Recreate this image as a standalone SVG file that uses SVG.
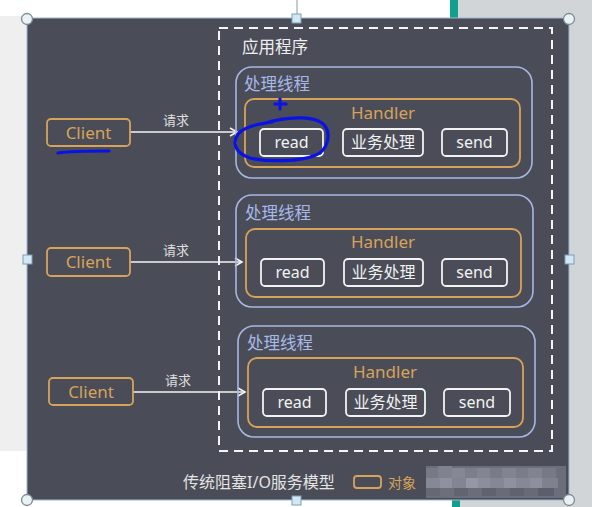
<svg xmlns="http://www.w3.org/2000/svg" width="592" height="507" viewBox="0 0 592 507">
  <style>
    .cn { font-family: "Noto Sans", "Noto Sans CJK SC", sans-serif; }
    .thread { fill: none; stroke: #a9b6e4; stroke-width: 1.6; }
    .handler { fill: none; stroke: #d7a35a; stroke-width: 1.8; }
    .step { fill: #4a4d57; stroke: #f2f2f2; stroke-width: 1.8; }
    .client { fill: #4a4d57; stroke: #d7a35a; stroke-width: 1.8; }
    .step-t { fill: #f2f2f2; font-size: 16px; text-anchor: middle; }
    .client-t { fill: #d7a35a; font-size: 17px; text-anchor: middle; }
    .handler-t { fill: #d7a35a; font-size: 17px; text-anchor: middle; }
    .thread-t { fill: #a9b8ea; font-size: 16.5px; }
    .req-t { fill: #dedede; font-size: 13px; text-anchor: middle; }
    .link { fill: none; stroke: #f4f4f4; stroke-width: 1.6; }
    .handle-c { fill: #e9f3f5; stroke: #7f8a94; stroke-width: 1.3; }
    .handle-s { fill: #cfe8f3; stroke: #7f9fb5; stroke-width: 1; }
    .ink { fill: none; stroke: #0a12e6; stroke-width: 3.2; stroke-linecap: round; stroke-linejoin: round; }
  </style>
  <defs>
    <marker id="chev" markerWidth="10" markerHeight="10" refX="8" refY="5" orient="auto" markerUnits="userSpaceOnUse">
      <path d="M1,1 L8,5 L1,9" fill="none" stroke="#f4f4f4" stroke-width="1.6"/>
    </marker>
  </defs>

  <!-- surrounding workspace -->
  <rect x="0" y="0" width="592" height="507" fill="#ffffff"/>
  <rect x="0" y="16" width="27" height="435" fill="#efefef"/>
  <rect x="458" y="0" width="134" height="507" fill="#d2d5d8"/>
  <rect x="450" y="0" width="8" height="18" fill="#12a08e"/>
  <rect x="452" y="500" width="8" height="7" fill="#12a08e"/>
  <line x1="297" y1="0" x2="297" y2="18" stroke="#8a9aa6" stroke-width="1"/>

  <!-- slide panel -->
  <rect x="27" y="18" width="542" height="482" fill="#4a4d57" stroke="#9fb6d6" stroke-width="1"/>

  <!-- application boundary -->
  <rect x="219" y="28" width="333" height="423" fill="none" stroke="#f4f4f4" stroke-width="2" stroke-dasharray="9,6"/>
  <text class="cn" x="242" y="53" fill="#eeeeee" font-size="16.5">应用程序</text>

  <!-- connectors -->
  <g id="connectors">
    <line class="link" x1="130" y1="132" x2="237" y2="132" marker-end="url(#chev)"/>
    <text class="cn req-t" x="176" y="125">请求</text>
    <line class="link" x1="130" y1="262" x2="242" y2="262" marker-end="url(#chev)"/>
    <text class="cn req-t" x="176" y="255">请求</text>
    <line class="link" x1="133" y1="392" x2="245" y2="392" marker-end="url(#chev)"/>
    <text class="cn req-t" x="178" y="385">请求</text>
  </g>

  <!-- clients -->
  <g id="client-1">
    <rect class="client" x="47" y="119" width="83" height="27" rx="4"/>
    <text class="cn client-t" x="88.5" y="138.5">Client</text>
  </g>
  <g id="client-2">
    <rect class="client" x="47" y="248" width="83" height="28" rx="4"/>
    <text class="cn client-t" x="88.5" y="268">Client</text>
  </g>
  <g id="client-3">
    <rect class="client" x="49" y="378" width="84" height="27" rx="4"/>
    <text class="cn client-t" x="91" y="397.5">Client</text>
  </g>

  <!-- worker thread 1 -->
  <g id="thread-1">
    <rect class="thread" x="236" y="67" width="296" height="111" rx="16"/>
    <text class="cn thread-t" x="244" y="90">处理线程</text>
    <rect class="handler" x="245" y="99" width="275" height="68" rx="9"/>
    <text class="cn handler-t" x="383" y="119">Handler</text>
    <rect class="step" x="260" y="129" width="63" height="27" rx="4"/>
    <text class="cn step-t" x="291.5" y="148">read</text>
    <rect class="step" x="343" y="129" width="80" height="27" rx="4"/>
    <text class="cn step-t" x="383" y="148">业务处理</text>
    <rect class="step" x="442" y="129" width="65" height="27" rx="4"/>
    <text class="cn step-t" x="474.5" y="148">send</text>
  </g>

  <!-- worker thread 2 -->
  <g id="thread-2">
    <rect class="thread" x="236" y="195" width="297" height="112" rx="16"/>
    <text class="cn thread-t" x="245" y="219">处理线程</text>
    <rect class="handler" x="246" y="229" width="275" height="68" rx="9"/>
    <text class="cn handler-t" x="383" y="248">Handler</text>
    <rect class="step" x="261" y="259" width="63" height="27" rx="4"/>
    <text class="cn step-t" x="292.5" y="278">read</text>
    <rect class="step" x="344" y="259" width="79" height="27" rx="4"/>
    <text class="cn step-t" x="383.5" y="278">业务处理</text>
    <rect class="step" x="442" y="259" width="65" height="27" rx="4"/>
    <text class="cn step-t" x="474.5" y="278">send</text>
  </g>

  <!-- worker thread 3 -->
  <g id="thread-3">
    <rect class="thread" x="238" y="326" width="297" height="111" rx="16"/>
    <text class="cn thread-t" x="247" y="349">处理线程</text>
    <rect class="handler" x="248" y="358" width="275" height="69" rx="9"/>
    <text class="cn handler-t" x="385" y="378">Handler</text>
    <rect class="step" x="263" y="389" width="63" height="27" rx="4"/>
    <text class="cn step-t" x="294.5" y="408">read</text>
    <rect class="step" x="346" y="389" width="79" height="27" rx="4"/>
    <text class="cn step-t" x="385.5" y="408">业务处理</text>
    <rect class="step" x="444" y="389" width="66" height="27" rx="4"/>
    <text class="cn step-t" x="477" y="408">send</text>
  </g>

  <!-- caption and legend -->
  <text class="cn" x="183" y="488" fill="#e4e4e4" font-size="16">传统阻塞I/O服务模型</text>
  <rect x="354" y="476" width="27" height="12" rx="3" fill="none" stroke="#d7a35a" stroke-width="1.8"/>
  <text class="cn" x="388" y="488" fill="#d7a35a" font-size="14">对象</text>

  <!-- mosaic patch -->
  <g id="mosaic">
    <rect x="426" y="466" width="140" height="32" fill="#6c6f7a"/>
    <rect x="426" y="468" width="12" height="10" fill="#777a86"/>
    <rect x="438" y="466" width="14" height="12" fill="#80838f"/>
    <rect x="452" y="468" width="13" height="10" fill="#858894"/>
    <rect x="465" y="468" width="12" height="10" fill="#7c7f8b"/>
    <rect x="477" y="468" width="13" height="10" fill="#838692"/>
    <rect x="490" y="468" width="12" height="10" fill="#797c88"/>
    <rect x="502" y="468" width="14" height="10" fill="#828591"/>
    <rect x="516" y="468" width="12" height="10" fill="#7a7d89"/>
    <rect x="528" y="468" width="14" height="10" fill="#818490"/>
    <rect x="542" y="468" width="14" height="10" fill="#777a86"/>
    <rect x="426" y="478" width="14" height="10" fill="#868995"/>
    <rect x="440" y="478" width="12" height="10" fill="#8f929e"/>
    <rect x="452" y="478" width="14" height="10" fill="#838692"/>
    <rect x="466" y="478" width="12" height="10" fill="#9598a4"/>
    <rect x="478" y="478" width="12" height="10" fill="#8c8f9b"/>
    <rect x="490" y="478" width="14" height="10" fill="#858894"/>
    <rect x="504" y="478" width="12" height="10" fill="#8f929e"/>
    <rect x="516" y="478" width="14" height="10" fill="#868995"/>
    <rect x="530" y="478" width="12" height="10" fill="#8d909c"/>
    <rect x="542" y="478" width="16" height="10" fill="#7f828e"/>
    <rect x="426" y="488" width="14" height="8" fill="#666974"/>
    <rect x="440" y="488" width="14" height="8" fill="#6d707b"/>
    <rect x="454" y="488" width="14" height="8" fill="#62656f"/>
    <rect x="468" y="488" width="14" height="8" fill="#6b6e79"/>
    <rect x="482" y="488" width="14" height="8" fill="#60636d"/>
    <rect x="496" y="488" width="14" height="8" fill="#696c77"/>
    <rect x="510" y="488" width="14" height="8" fill="#60636d"/>
    <rect x="524" y="488" width="14" height="8" fill="#686b76"/>
    <rect x="538" y="488" width="16" height="8" fill="#5c5f69"/>
  </g>

  <!-- selection handles -->
  <g id="handles">
    <rect class="handle-s" x="292" y="14" width="9" height="9"/>
    <rect class="handle-s" x="23" y="255" width="9" height="9"/>
    <rect class="handle-s" x="565" y="255" width="9" height="9"/>
    <rect class="handle-s" x="292" y="496" width="9" height="9"/>
    <circle class="handle-c" cx="27" cy="19" r="5.5"/>
    <circle class="handle-c" cx="569" cy="19" r="5.5"/>
    <circle class="handle-c" cx="27" cy="500" r="5.5"/>
    <circle class="handle-c" cx="569" cy="500" r="5.5"/>
  </g>

  <!-- pen marks -->
  <g id="pen">
    <path class="ink" d="M58,153 C70,151 95,151 109,151"/>
    <path class="ink" d="M280,99 L280,109 M275,104 L286,104" stroke-width="2.2"/>
    <path class="ink" d="M262,124 C290,115 318,116 325,126 C331,134 328,150 316,155 C300,162 268,162 250,158 C235,153 232,143 238,134 C244,127 256,124 272,122"/>
  </g>
</svg>
